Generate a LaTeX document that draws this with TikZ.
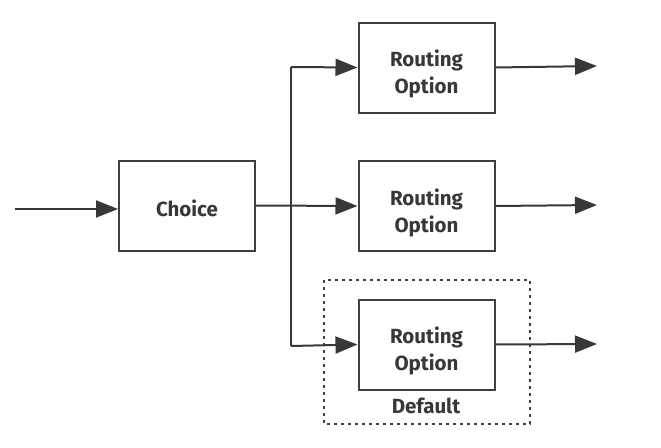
\documentclass[tikz,border=0pt]{standalone}
\usepackage{fontspec}
\setmainfont{Fira Sans}
\usetikzlibrary{arrows.meta,positioning}
\begin{document}
\begin{tikzpicture}[x=1pt,y=-1pt,
  line width=2pt, draw=black!78,
  boxfont/.style={font=\fontsize{20.5}{27}\selectfont\bfseries, text=black!78, align=center, inner sep=0pt},
  box/.style={draw=black!75, line width=2pt, fill=white, minimum width=136pt, minimum height=90pt, inner sep=0pt},
  conn/.style={draw=black!78, line width=2pt, -{Triangle[length=22pt,width=17pt]}},
  plain/.style={draw=black!78, line width=2pt},
  dashbox/.style={draw=black!75, line width=2pt, dash pattern=on 3pt off 4pt}]
\useasboundingbox (0,0) rectangle (661,447);
\node[box] (choice) at (187,205.5) {};
\node[boxfont] (tchoice) at ([yshift=-3pt]choice.center) {Choice};
\node[box] (r1) at (426.5,67.5) {};
\node[boxfont] (t1) at ([yshift=-6.5pt]r1.center) {Routing\\Option};
\node[box] (r2) at (426.5,206) {};
\node[boxfont] (t2) at ([yshift=-6.5pt]r2.center) {Routing\\Option};
\node[box] (r3) at (426.5,344.5) {};
\node[boxfont] (t3) at ([yshift=-6.5pt]r3.center) {Routing\\Option};
\node[boxfont] (def) at (426,406) {Default};
\draw[dashbox] (324,280) rectangle (530,424);
\coordinate (in) at (15,209);
\coordinate (j1) at (291,67);
\coordinate (j3) at (291,346);
\coordinate (o1) at (597,66);
\coordinate (o2) at (597,205);
\coordinate (o3) at (597,344);
\draw[conn] (in) -- (in -| choice.west);
\draw[conn] (choice.east) -- (r2.west);
\draw[plain] (j1) -- (j3);
\draw[conn] (j1) -- (r1.west);
\draw[conn] (j3) -- (r3.west);
\draw[conn] (r1.east) -- (o1);
\draw[conn] (r2.east) -- (o2);
\draw[conn] (r3.east) -- (o3);
\end{tikzpicture}
\end{document}
